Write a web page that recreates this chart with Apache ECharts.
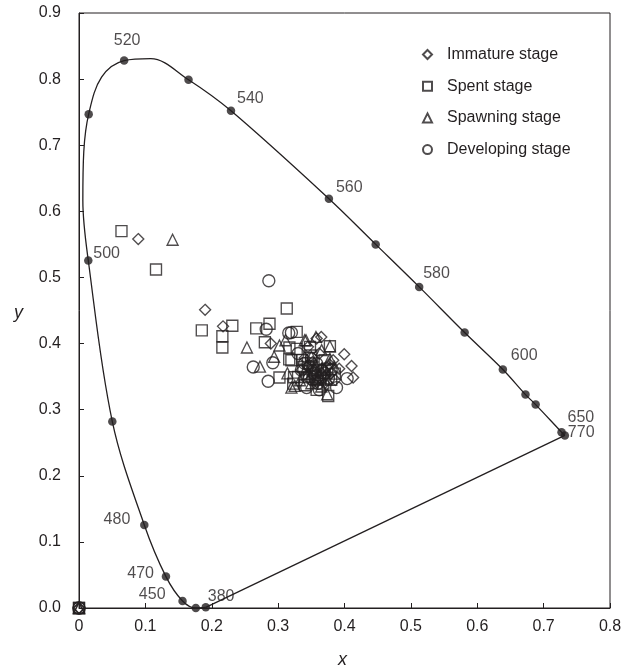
<!DOCTYPE html>
<html>
<head>
<meta charset="utf-8">
<script src="https://cdn.jsdelivr.net/npm/echarts@6/dist/echarts.min.js"></script>
<style>html,body{margin:0;padding:0;background:#fff}#c{width:633px;height:671px}</style>
</head>
<body>
<div id="c"></div>
<script>
// Spectral locus (chromaticity x, y) with wavelength tags
const locusName = ['380', '', '450', '470', '480', '490', '500', '', '', '510', '', '520', '', '530', '540', '560', '570', '580', '590', '600', '610', '620', '650', '770'];
const locusX = [0.191, 0.176, 0.156, 0.131, 0.0984, 0.0502, 0.014, 0.0058, 0.0072, 0.0146, 0.034, 0.068, 0.108, 0.165, 0.229, 0.3765, 0.447, 0.5125, 0.581, 0.6386, 0.6727, 0.688, 0.727, 0.732];
const locusY = [0.001, 0.0, 0.0106, 0.0475, 0.1256, 0.282, 0.5256, 0.616, 0.69, 0.747, 0.803, 0.828, 0.831, 0.799, 0.752, 0.619, 0.550, 0.4857, 0.4166, 0.3607, 0.3228, 0.3077, 0.266, 0.261];
const locusDot = [1, 1, 1, 1, 1, 1, 1, 0, 0, 1, 0, 1, 0, 1, 1, 1, 1, 1, 1, 1, 1, 1, 1, 1];
const shownLabels = ['380', '450', '470', '480', '500', '520', '540', '560', '580', '600', '650', '770'];
// purple line endpoints (770 -> 380)
const purpleX = [0.732, 0.191];
const purpleY = [0.261, 0.001];

const seriesNames = ['Immature stage', 'Spent stage', 'Spawning stage', 'Developing stage'];
const immature = [[0,0],[0,0],[0.0893,0.558],[0.19,0.451],[0.217,0.426],[0.289,0.400],[0.358,0.4076],[0.3996,0.3838],[0.4106,0.366],[0.413,0.3486],[0.383,0.3747],[0.373,0.3646],[0.345,0.395],[0.365,0.41],[0.352,0.372],[0.335,0.36],[0.36,0.35],[0.37,0.34],[0.38,0.355],[0.392,0.362],[0.348,0.345],[0.362,0.385],[0.34,0.378],[0.355,0.36],[0.372,0.352],[0.366,0.362],[0.358,0.342],[0.378,0.368],[0.352,0.352],[0.344,0.366],[0.386,0.345]];
const spent = [[0,0],[0,0],[0.064,0.570],[0.116,0.512],[0.185,0.420],[0.216,0.411],[0.216,0.394],[0.231,0.427],[0.267,0.423],[0.287,0.430],[0.313,0.453],[0.280,0.402],[0.328,0.4176],[0.317,0.394],[0.3167,0.376],[0.302,0.3486],[0.324,0.349],[0.378,0.396],[0.3855,0.3546],[0.3755,0.3207],[0.3227,0.3395],[0.330,0.3495],[0.328,0.392],[0.320,0.3747],[0.348,0.395],[0.338,0.3646],[0.3554,0.3495],[0.368,0.3395],[0.3404,0.337],[0.36,0.36],[0.345,0.37],[0.37,0.375],[0.358,0.33],[0.38,0.345],[0.352,0.358],[0.364,0.348],[0.374,0.362],[0.35,0.382],[0.336,0.375]];
const spawning = [[0,0],[0,0],[0.141,0.557],[0.253,0.394],[0.302,0.397],[0.311,0.405],[0.294,0.380],[0.2726,0.365],[0.314,0.355],[0.325,0.336],[0.342,0.405],[0.357,0.41],[0.378,0.396],[0.374,0.3233],[0.320,0.3334],[0.340,0.405],[0.3655,0.39],[0.353,0.3596],[0.378,0.377],[0.333,0.3445],[0.36,0.345],[0.345,0.355],[0.37,0.36],[0.35,0.38],[0.365,0.335],[0.385,0.365],[0.356,0.368],[0.362,0.352],[0.342,0.362],[0.374,0.346],[0.35,0.34]];
const developing = [[0,0],[0,0],[0.286,0.495],[0.282,0.4216],[0.316,0.416],[0.320,0.4166],[0.292,0.371],[0.2625,0.3646],[0.285,0.343],[0.404,0.347],[0.388,0.3334],[0.343,0.3334],[0.330,0.385],[0.358,0.3697],[0.3655,0.3495],[0.350,0.377],[0.343,0.3495],[0.36,0.34],[0.37,0.355],[0.335,0.36],[0.355,0.355],[0.38,0.36],[0.348,0.365],[0.362,0.33],[0.366,0.36],[0.352,0.346],[0.376,0.348],[0.34,0.37]];

const ink = '#231F20';
const font = "'Liberation Sans', Arial, sans-serif";

const labelStyle = {
  '380': {align: 'left', dx: 2, dy: -11},
  '450': {align: 'right', dx: -17, dy: -6},
  '470': {align: 'right', dx: -12, dy: -3},
  '480': {align: 'right', dx: -14, dy: -5},
  '500': {align: 'left', dx: 5, dy: -7},
  '520': {align: 'center', dx: 3, dy: -20},
  '540': {align: 'left', dx: 6, dy: -12},
  '560': {align: 'left', dx: 7, dy: -11},
  '580': {align: 'left', dx: 4, dy: -13},
  '600': {align: 'left', dx: 8, dy: -14},
  '650': {align: 'left', dx: 6, dy: -15},
  '770': {align: 'left', dx: 3, dy: -3}
};

const lineData = locusX.map((x, i) => [x, locusY[i]]);
const dotData = [];
locusX.forEach((x, i) => {
  if (!locusDot[i]) return;
  const nm = locusName[i];
  const item = {value: [x, locusY[i]]};
  if (shownLabels.includes(nm)) {
    const s = labelStyle[nm];
    item.label = {show: true, formatter: nm, position: 'inside', align: s.align, verticalAlign: 'middle', offset: [s.dx, s.dy]};
  }
  dotData.push(item);
});

const hollow = {color: 'rgba(255,255,255,0)', borderColor: ink, borderWidth: 1.35};
const symbols = ['diamond', 'rect', 'triangle', 'circle'];
const sizes = [11, 11, 11, 12];
const groups = [immature, spent, spawning, developing];

const chart = echarts.init(document.getElementById('c'));
chart.setOption({
  animation: false,
  backgroundColor: '#fff',
  textStyle: {fontFamily: font, color: ink},
  grid: {left: 79, right: 23, top: 13, bottom: 63, show: true, borderColor: ink, borderWidth: 1, backgroundColor: 'transparent'},
  xAxis: {
    type: 'value', min: 0, max: 0.8, interval: 0.1,
    axisLine: {show: true, onZero: false, lineStyle: {color: ink, width: 1}},
    axisTick: {show: true, inside: true, length: 5, lineStyle: {color: ink}},
    splitLine: {show: false},
    axisLabel: {color: ink, fontSize: 16, fontFamily: font, margin: 11, formatter: v => v === 0 ? '0' : v.toFixed(1)}
  },
  yAxis: {
    type: 'value', min: 0, max: 0.9, interval: 0.1,
    axisLine: {show: true, onZero: false, lineStyle: {color: ink, width: 1}},
    axisTick: {show: true, inside: true, length: 5, lineStyle: {color: ink}},
    splitLine: {show: false},
    axisLabel: {color: ink, fontSize: 16, fontFamily: font, margin: 18, formatter: v => v.toFixed(1)}
  },
  legend: {
    orient: 'vertical', left: 422, top: 46.5, padding: 0,
    itemWidth: 9, itemHeight: 9, itemGap: 15.7,
    data: seriesNames.map((n, i) => ({name: n, icon: symbols[i]})),
    textStyle: {fontSize: 16, fontFamily: font, color: ink, padding: [0, 0, 0, 10]}
  },
  graphic: [
    {type: 'text', left: 338, top: 651, style: {text: 'x', font: "italic 18px 'Liberation Sans', Arial, sans-serif", fill: ink}},
    {type: 'text', left: 14, top: 304, style: {text: 'y', font: "italic 18px 'Liberation Sans', Arial, sans-serif", fill: ink}}
  ],
  series: [
    {type: 'line', data: lineData, smooth: 0.35, showSymbol: false, symbol: 'none', lineStyle: {color: ink, width: 1.3}, z: 2, silent: true},
    {type: 'line', data: purpleX.map((x, i) => [x, purpleY[i]]), showSymbol: false, symbol: 'none', lineStyle: {color: ink, width: 1.3}, z: 2, silent: true},
    {type: 'scatter', data: dotData, symbol: 'circle', symbolSize: 8.5, itemStyle: {color: ink}, z: 3,
      label: {color: ink, fontSize: 16, fontFamily: font}},
    ...seriesNames.map((n, i) => ({
      name: n, type: 'scatter', data: groups[i], symbol: symbols[i], symbolSize: sizes[i],
      itemStyle: hollow, z: 4
    }))
  ]
});
</script>
</body>
</html>
